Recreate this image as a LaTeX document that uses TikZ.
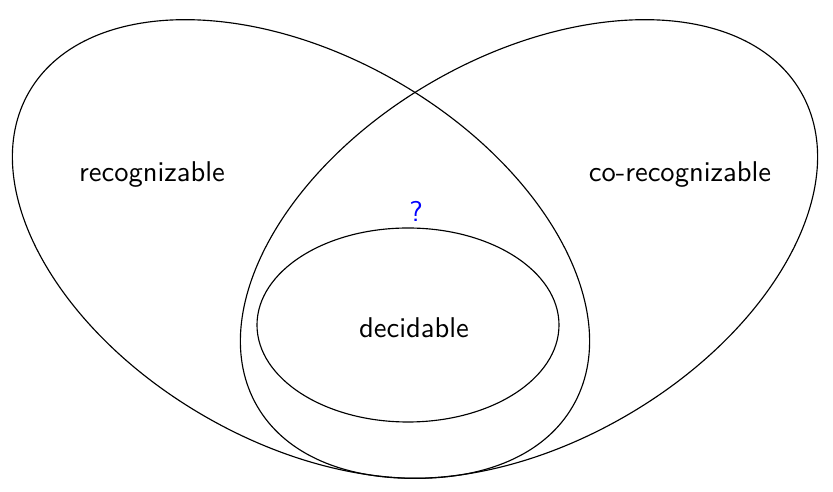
\documentclass[tikz,border=0pt]{standalone}
\begin{document}
\begin{tikzpicture}[
    x=0.35pt, y=0.35pt,
    font=\sffamily,
    set/.style={draw, line width=0.4pt},
    lbl/.style={inner sep=0pt},
]
\useasboundingbox (0,0) rectangle (833,492);

\draw[set, rotate around={-30:(301,243)}] (301,243) ellipse [x radius=314, y radius=193];
\draw[set, rotate around={30:(529,243)}]  (529,243) ellipse [x radius=314, y radius=193];
\draw[set] (408,167) ellipse [x radius=151, y radius=97];

\node[lbl] (rec)   at (152,317) {recognizable};
\node[lbl] (corec) at (680,317) {co-recognizable};
\node[lbl, text=blue] (q) at (416,281) {?};
\node[lbl] (dec)   at (414,164) {decidable};
\end{tikzpicture}
\end{document}
